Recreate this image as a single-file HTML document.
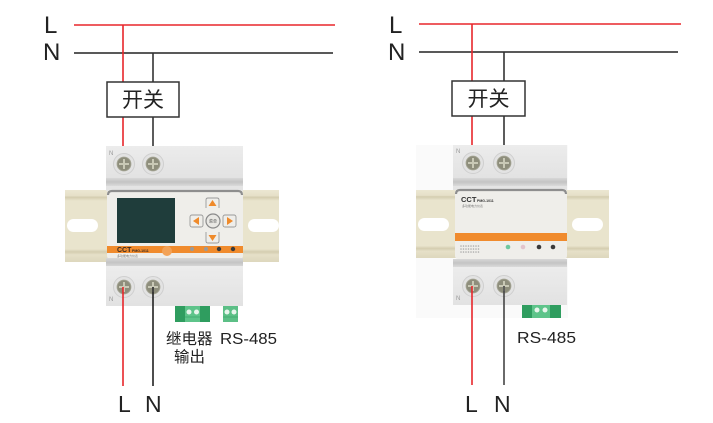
<!DOCTYPE html>
<html><head><meta charset="utf-8"><style>
html,body{margin:0;padding:0;background:#fff;}
svg{display:block;}
text{font-family:"Liberation Sans","Noto Sans CJK SC",sans-serif;}
</style></head><body>
<svg width="713" height="423" viewBox="0 0 713 423" xmlns="http://www.w3.org/2000/svg">
<defs>
<linearGradient id="blk" x1="0" y1="0" x2="0" y2="1"><stop offset="0" stop-color="#ececec"/><stop offset="1" stop-color="#e2e2e2"/></linearGradient>
<linearGradient id="band" x1="0" y1="0" x2="0" y2="1"><stop offset="0" stop-color="#d8d8d8"/><stop offset="0.5" stop-color="#c4c4c4"/><stop offset="1" stop-color="#dadada"/></linearGradient>
<linearGradient id="rail" x1="0" y1="0" x2="0" y2="1">
<stop offset="0" stop-color="#ece7d2"/><stop offset="0.08" stop-color="#e6e0c8"/><stop offset="0.1" stop-color="#d4cdb0"/><stop offset="0.15" stop-color="#e9e4cd"/>
<stop offset="0.82" stop-color="#e9e4cd"/><stop offset="0.86" stop-color="#d4cdb0"/><stop offset="0.9" stop-color="#e6e0c8"/><stop offset="1" stop-color="#ddd7bd"/></linearGradient>
<g id="term">
<circle r="10.5" fill="#e3e3e3" stroke="#cfcfcf" stroke-width="1"/>
<circle r="7" fill="#8e8e7c" stroke="#a8a898" stroke-width="0.8"/>
<rect x="-5" y="-1" width="10" height="2" fill="#c9c9b6"/>
<rect x="-1" y="-5" width="2" height="10" fill="#c9c9b6"/>
</g>
</defs>

<!-- ===== LEFT DIAGRAM ===== -->
<text x="44" y="33" font-size="24" fill="#222">L</text>
<text x="43" y="60" font-size="24" fill="#222">N</text>
<line x1="74" y1="25" x2="335" y2="25" stroke="#e8262b" stroke-width="1.6"/>
<line x1="74" y1="53" x2="333" y2="53" stroke="#222" stroke-width="1.6"/>
<line x1="123" y1="25" x2="123" y2="148" stroke="#e8262b" stroke-width="1.6"/>
<line x1="153" y1="53" x2="153" y2="148" stroke="#333" stroke-width="1.6"/>
<rect x="107" y="82" width="72" height="35" fill="#fff" stroke="#333" stroke-width="1.5"/>
<text x="143" y="107" font-size="21" fill="#222" text-anchor="middle" font-family="'Noto Sans CJK SC',sans-serif">开关</text>

<!-- rail -->
<rect x="65" y="190" width="214" height="72" fill="url(#rail)"/>
<rect x="67" y="219" width="31" height="13" rx="6.5" fill="#fff"/>
<rect x="248" y="219" width="31" height="13" rx="6.5" fill="#fff"/>
<!-- device -->
<rect x="106" y="146" width="137" height="33" fill="url(#blk)"/>
<rect x="106" y="178" width="137" height="8" fill="url(#band)"/>
<rect x="106" y="186" width="137" height="5" fill="#e4e4e4"/>
<rect x="107" y="190" width="136" height="69" rx="3" fill="#efeeea"/>
<path d="M108 195 Q108 191 112 191 L238 191 Q242 191 242 195" fill="none" stroke="#8e8e8e" stroke-width="2.2"/>
<rect x="117" y="198" width="58" height="45" fill="#1f3d3b"/>
<!-- buttons -->
<path d="M206 208 L206 200 Q206 198 208 198 L217 198 Q219 198 219 200 L219 208" fill="none" stroke="#999" stroke-width="0.9"/>
<path d="M206 232 L206 241 Q206 243 208 243 L217 243 Q219 243 219 241 L219 232" fill="none" stroke="#999" stroke-width="0.9"/>
<rect x="190" y="215" width="13" height="12" rx="2" fill="none" stroke="#999" stroke-width="0.9"/>
<rect x="223" y="215" width="13" height="12" rx="2" fill="none" stroke="#999" stroke-width="0.9"/>
<polygon points="212.5,200 216.5,206 208.5,206" fill="#ef8a2a"/>
<polygon points="212.5,241 216.5,235 208.5,235" fill="#ef8a2a"/>
<polygon points="193,221 199,217 199,225" fill="#ef8a2a"/>
<polygon points="233,221 227,217 227,225" fill="#ef8a2a"/>
<circle cx="213" cy="221" r="7" fill="#e9e8e4" stroke="#8a8a8a" stroke-width="1.2"/>
<text x="213" y="222.5" font-size="4" fill="#555" text-anchor="middle" font-family="'Noto Sans CJK SC',sans-serif">菜单</text>
<!-- orange band -->
<rect x="107" y="246" width="136" height="7" fill="#f08b2d"/>
<text x="117" y="252" font-size="7" font-weight="bold" fill="#3a2a20">CCT</text>
<text x="132" y="252" font-size="3.5" font-weight="bold" fill="#3a2a20">PMG-1011</text>
<text x="117" y="257" font-size="3" fill="#777" font-family="'Noto Sans CJK SC',sans-serif">多功能电力仪表</text>
<circle cx="167" cy="251" r="5" fill="#f3a256"/>
<circle cx="192" cy="249" r="2" fill="#9a9a9a"/>
<circle cx="206" cy="249" r="2" fill="#9a9a9a"/>
<circle cx="219" cy="249" r="2.2" fill="#3a3a3a"/>
<circle cx="233" cy="249" r="2.2" fill="#3a3a3a"/>
<rect x="106" y="258" width="137" height="9" fill="url(#band)"/>
<rect x="106" y="266" width="137" height="40" fill="url(#blk)"/>
<text x="109" y="155" font-size="6" fill="#999">N</text>
<text x="109" y="301" font-size="6" fill="#999">N</text>
<use href="#term" x="124" y="164"/>
<use href="#term" x="153" y="164"/>
<use href="#term" x="124" y="287"/>
<use href="#term" x="153" y="287"/>
<!-- connectors -->
<rect x="175" y="306" width="35" height="16" fill="#2f9d5f"/>
<rect x="185" y="306" width="15" height="16" fill="#5ec48a"/>
<circle cx="189" cy="312" r="2.5" fill="#e8f5ec"/>
<circle cx="196.5" cy="312" r="2.5" fill="#e8f5ec"/>
<line x1="185" y1="317" x2="200" y2="317" stroke="#3da96c" stroke-width="0.8"/>
<rect x="223" y="306" width="15" height="16" fill="#5cbf86"/>
<circle cx="227" cy="312" r="2.5" fill="#e8f5ec"/>
<circle cx="234" cy="312" r="2.5" fill="#e8f5ec"/>
<line x1="223" y1="317" x2="238" y2="317" stroke="#3da96c" stroke-width="0.8"/>
<!-- wires down -->
<line x1="123" y1="287" x2="123" y2="386" stroke="#e8262b" stroke-width="1.6"/>
<line x1="153" y1="287" x2="153" y2="386" stroke="#222" stroke-width="1.6"/>
<text x="118" y="412" font-size="23" fill="#222">L</text>
<text x="145" y="412" font-size="23" fill="#222">N</text>
<text x="166" y="344" font-size="15.5" fill="#222" font-family="'Noto Sans CJK SC',sans-serif">继电器</text>
<text x="220" y="344" font-size="16" fill="#222" textLength="57" lengthAdjust="spacingAndGlyphs">RS-485</text>
<text x="174" y="362" font-size="15.5" fill="#222" font-family="'Noto Sans CJK SC',sans-serif">输出</text>

<!-- ===== RIGHT DIAGRAM ===== -->
<text x="389" y="33" font-size="24" fill="#222">L</text>
<text x="388" y="60" font-size="24" fill="#222">N</text>
<line x1="419" y1="24" x2="681" y2="24" stroke="#e8262b" stroke-width="1.6"/>
<line x1="419" y1="52" x2="678" y2="52" stroke="#222" stroke-width="1.6"/>
<line x1="472" y1="24" x2="472" y2="146" stroke="#e8262b" stroke-width="1.6"/>
<line x1="504" y1="52" x2="504" y2="146" stroke="#333" stroke-width="1.6"/>
<rect x="452" y="81" width="73" height="35" fill="#fff" stroke="#333" stroke-width="1.5"/>
<text x="488.5" y="106" font-size="21" fill="#222" text-anchor="middle" font-family="'Noto Sans CJK SC',sans-serif">开关</text>

<rect x="416" y="145" width="152" height="173" fill="#fafafa"/>
<rect x="416" y="190" width="193" height="68" fill="url(#rail)"/>
<rect x="418" y="218" width="31" height="13" rx="6.5" fill="#fff"/>
<rect x="572" y="218" width="31" height="13" rx="6.5" fill="#fff"/>
<rect x="453" y="145" width="114" height="34" fill="url(#blk)"/>
<rect x="453" y="178" width="114" height="8" fill="url(#band)"/>
<rect x="453" y="186" width="114" height="4" fill="#e4e4e4"/>
<rect x="455" y="189" width="112" height="70" rx="3" fill="#efeeea"/>
<path d="M456 194 Q456 190 460 190 L562 190 Q566 190 566 194" fill="none" stroke="#8e8e8e" stroke-width="2.2"/>
<text x="461" y="202" font-size="7.5" font-weight="bold" fill="#333">CCT</text>
<text x="477" y="202" font-size="3.5" font-weight="bold" fill="#333">PMG-1011</text>
<text x="462" y="207" font-size="3" fill="#777" font-family="'Noto Sans CJK SC',sans-serif">多功能电力仪表</text>
<rect x="455" y="233" width="112" height="8" fill="#f08b2d"/>
<g fill="#aaa">
<circle cx="461" cy="246" r="0.8"/><circle cx="463.5" cy="246" r="0.8"/><circle cx="466" cy="246" r="0.8"/><circle cx="468.5" cy="246" r="0.8"/><circle cx="471" cy="246" r="0.8"/><circle cx="473.5" cy="246" r="0.8"/><circle cx="476" cy="246" r="0.8"/><circle cx="478.5" cy="246" r="0.8"/>
<circle cx="461" cy="249" r="0.8"/><circle cx="463.5" cy="249" r="0.8"/><circle cx="466" cy="249" r="0.8"/><circle cx="468.5" cy="249" r="0.8"/><circle cx="471" cy="249" r="0.8"/><circle cx="473.5" cy="249" r="0.8"/><circle cx="476" cy="249" r="0.8"/><circle cx="478.5" cy="249" r="0.8"/>
<circle cx="461" cy="252" r="0.8"/><circle cx="463.5" cy="252" r="0.8"/><circle cx="466" cy="252" r="0.8"/><circle cx="468.5" cy="252" r="0.8"/><circle cx="471" cy="252" r="0.8"/><circle cx="473.5" cy="252" r="0.8"/><circle cx="476" cy="252" r="0.8"/><circle cx="478.5" cy="252" r="0.8"/>
</g>
<circle cx="508" cy="247" r="2.3" fill="#6fc8a0"/>
<circle cx="523" cy="247" r="2.3" fill="#e2c4cc"/>
<circle cx="539" cy="247" r="2.3" fill="#3a3a3a"/>
<circle cx="553" cy="247" r="2.3" fill="#3a3a3a"/>
<rect x="453" y="259" width="114" height="8" fill="url(#band)"/>
<rect x="453" y="267" width="114" height="38" fill="url(#blk)"/>
<text x="456" y="153" font-size="6" fill="#999">N</text>
<text x="456" y="300" font-size="6" fill="#999">N</text>
<use href="#term" x="473" y="163"/>
<use href="#term" x="504" y="163"/>
<use href="#term" x="473" y="286"/>
<use href="#term" x="504" y="286"/>
<rect x="522" y="305" width="39" height="13" fill="#2f9d5f"/>
<rect x="532" y="305" width="18" height="13" fill="#5ec48a"/>
<circle cx="537" cy="310" r="2.5" fill="#e8f5ec"/>
<circle cx="545" cy="310" r="2.5" fill="#e8f5ec"/>
<line x1="472" y1="286" x2="472" y2="385" stroke="#e8262b" stroke-width="1.6"/>
<line x1="504" y1="286" x2="504" y2="385" stroke="#444" stroke-width="1.6"/>
<text x="465" y="412" font-size="23" fill="#222">L</text>
<text x="494" y="412" font-size="23" fill="#222">N</text>
<text x="517" y="343" font-size="16" fill="#222" textLength="59" lengthAdjust="spacingAndGlyphs">RS-485</text>
</svg>
</body></html>
